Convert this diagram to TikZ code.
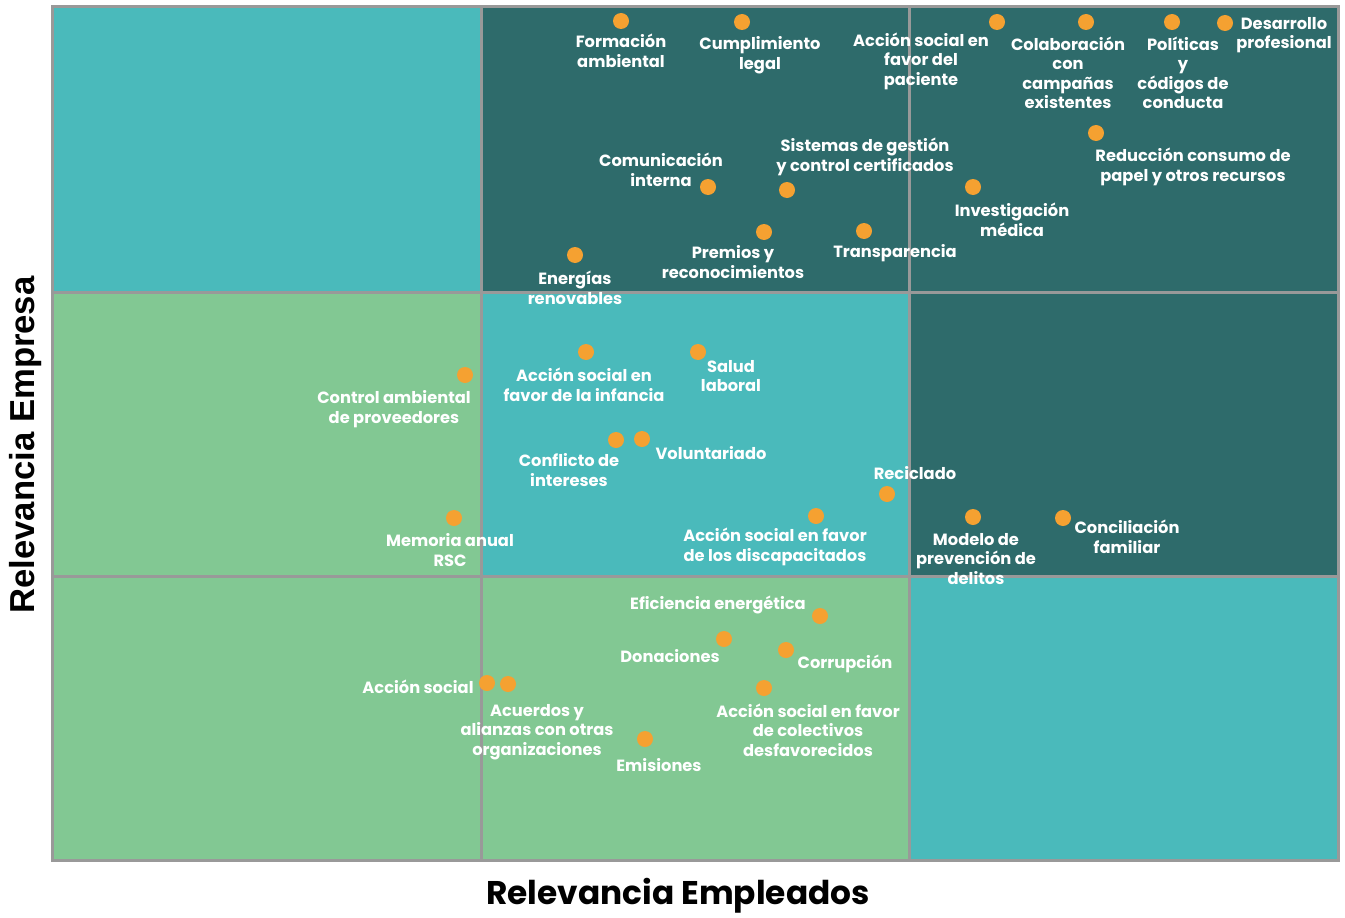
\documentclass[tikz,border=0pt]{standalone}
\usepackage{fontspec}
\setmainfont{Poppins}
\newfontfamily\axisfont{Liberation Sans}
\definecolor{lteal}{HTML}{4ABABB}
\definecolor{dteal}{HTML}{2E6B6B}
\definecolor{lgreen}{HTML}{82C893}
\definecolor{gridgray}{HTML}{999999}
\definecolor{dotor}{HTML}{F5A131}
\tikzset{
  dotnode/.style={circle,fill=dotor,minimum size=12pt,inner sep=0pt},
  lbl/.style={text=white,align=center,inner sep=0pt,font=\bfseries\fontsize{12.2}{14.6}\selectfont},
  gridline/.style={draw=gridgray,line width=2.25pt}
}
\begin{document}
\begin{tikzpicture}[x=0.75pt,y=-0.75pt]
\useasboundingbox (0,0) rectangle (1345,917);
% cells
\fill[lteal]  (52,7) rectangle (481,292);
\fill[dteal]  (481,7) rectangle (909,292);
\fill[dteal]  (909,7) rectangle (1338,292);
\fill[lgreen] (52,292) rectangle (481,576);
\fill[lteal]  (481,292) rectangle (909,576);
\fill[dteal]  (909,292) rectangle (1338,576);
\fill[lgreen] (52,576) rectangle (481,860);
\fill[lgreen] (481,576) rectangle (909,860);
\fill[lteal]  (909,576) rectangle (1338,860);
% grid
\draw[gridline] (481,7) -- (481,860);
\draw[gridline] (909,7) -- (909,860);
\draw[gridline] (52,292) -- (1338,292);
\draw[gridline] (52,576) -- (1338,576);
\draw[gridline] (52,7) rectangle (1338,860);
% axis labels
\node[rotate=90,font=\axisfont\bfseries\fontsize{26}{30}\selectfont] (ay) at (26,445) {Relevancia Empresa};
\node[font=\bfseries\fontsize{24.6}{28}\selectfont] (ax) at (678,896) {Relevancia Empleados};
% top row
\node[dotnode] (d1) at (621,21) {};
\node[lbl] (l1) at (621,51) {Formación\\ambiental};
\node[dotnode] (d2) at (742,22) {};
\node[lbl] (l2) at (760,55) {Cumplimiento\\legal};
\node[dotnode] (d3) at (997,22) {};
\node[lbl] (l3) at (921,61) {Acción social en\\favor del\\paciente};
\node[dotnode] (d4) at (1086,22) {};
\node[lbl] (l4) at (1068,73) {Colaboración\\con\\campañas\\existentes};
\node[dotnode] (d5) at (1172,22) {};
\node[lbl] (l5) at (1183,73) {Políticas\\y\\códigos de\\conducta};
\node[dotnode] (d6) at (1225,23) {};
\node[lbl] (l6) at (1284,35) {Desarrollo\\profesional};
\node[dotnode] (d7) at (1096,133) {};
\node[lbl] (l7) at (1193,167) {Reducción consumo de\\papel y otros recursos};
\node[dotnode] (d8) at (973,187) {};
\node[lbl] (l8) at (1012,220) {Investigación\\médica};
\node[dotnode] (d9) at (708,187) {};
\node[lbl] (l9) at (661,170) {Comunicación\\interna};
\node[dotnode] (d10) at (787,190) {};
\node[lbl] (l10) at (865,157) {Sistemas de gestión\\y control certificados};
\node[dotnode] (d11) at (764,232) {};
\node[lbl] (l11) at (733,262) {Premios y\\reconocimientos};
\node[dotnode] (d12) at (864,231) {};
\node[lbl] (l12) at (895,253) {Transparencia};
\node[dotnode] (d13) at (575,255) {};
\node[lbl] (l13) at (575,288) {Energías\\renovables};
% middle row
\node[dotnode] (d14) at (465,375) {};
\node[lbl] (l14) at (394,409) {Control ambiental\\de proveedores};
\node[dotnode] (d15) at (454,518) {};
\node[lbl] (l15) at (450,550) {Memoria anual\\RSC};
\node[dotnode] (d16) at (586,352) {};
\node[lbl] (l16) at (584,385) {Acción social en\\favor de la infancia};
\node[dotnode] (d17) at (698,352) {};
\node[lbl] (l17) at (731,376) {Salud\\laboral};
\node[dotnode] (d18) at (616,440) {};
\node[lbl] (l18) at (569,470) {Conflicto de\\intereses};
\node[dotnode] (d19) at (642,439) {};
\node[lbl] (l19) at (711,453) {Voluntariado};
\node[dotnode] (d20) at (887,494) {};
\node[lbl] (l20) at (915,473) {Reciclado};
\node[dotnode] (d21) at (816,516) {};
\node[lbl] (l21) at (775,547) {Acción social en favor\\de los discapacitados};
\node[dotnode] (d22) at (973,517) {};
\node[lbl] (l22) at (976,559) {Modelo de\\prevención de\\delitos};
\node[dotnode] (d23) at (1063,518) {};
\node[lbl] (l23) at (1127,537) {Conciliación\\familiar};
% bottom row
\node[dotnode] (d24) at (820,616) {};
\node[lbl] (l24) at (718,605) {Eficiencia energética};
\node[dotnode] (d25) at (724,639) {};
\node[lbl] (l25) at (670,656) {Donaciones};
\node[dotnode] (d26) at (786,650) {};
\node[lbl] (l26) at (845,664) {Corrupción};
\node[dotnode] (d27) at (487,683) {};
\node[lbl] (l27) at (418,687) {Acción social};
\node[dotnode] (d28) at (508,684) {};
\node[lbl] (l28) at (537,732) {Acuerdos y\\alianzas con otras\\organizaciones};
\node[dotnode] (d29) at (764,688) {};
\node[lbl] (l29) at (808,730) {Acción social en favor\\de colectivos\\desfavorecidos};
\node[dotnode] (d30) at (645,739) {};
\node[lbl] (l30) at (659,765) {Emisiones};
\end{tikzpicture}
\end{document}
